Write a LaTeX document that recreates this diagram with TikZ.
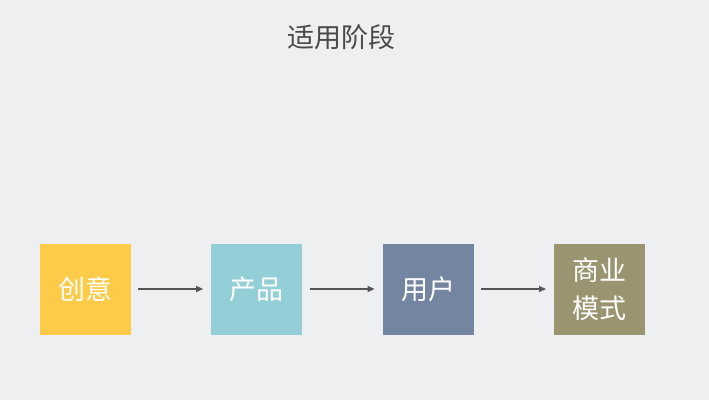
\documentclass[tikz,border=0pt]{standalone}
\usepackage{fontspec}
\usepackage{tikz}
\usetikzlibrary{positioning,arrows.meta}
\newfontfamily\cjk{Noto Sans CJK SC}
\definecolor{bgray}{HTML}{EEEFF1}
\definecolor{idea}{HTML}{FDCB48}
\definecolor{prod}{HTML}{94CFD7}
\definecolor{user}{HTML}{7385A0}
\definecolor{biz}{HTML}{9A9470}
\definecolor{ttl}{HTML}{4A4A4A}
\definecolor{arrgray}{HTML}{555555}

\begin{document}
\begin{tikzpicture}[
		x=1pt, y=1pt,
		stage/.style={minimum size=91pt, inner sep=0pt, text=white, align=center,
			font=\cjk\fontsize{27}{38}\selectfont},
		flow/.style={draw=arrgray, line width=1.3pt, -{Triangle[length=7pt,width=6pt]}},
		node distance=80pt
		]
		\fill[bgray] (0,0) rectangle (709,400);
		\useasboundingbox (0,0) rectangle (709,400);
		\node[text=ttl, font=\cjk\fontsize{27}{32}\selectfont] (title) at (341.5,363) {适用阶段};
		\node[stage, fill=idea] (idea) at (85.5,111) {创意};
		\node[stage, fill=prod, right=of idea] (prod) {产品};
		\node[stage, fill=user, right=of prod] (user) {用户};
		\node[stage, fill=biz, right=of user] (biz) {商业\\模式};
		\draw[flow] ([xshift=7pt]idea.east) -- ([xshift=-8pt]prod.west);
		\draw[flow] ([xshift=7pt]prod.east) -- ([xshift=-8pt]user.west);
		\draw[flow] ([xshift=7pt]user.east) -- ([xshift=-8pt]biz.west);
\end{tikzpicture}
\end{document}
